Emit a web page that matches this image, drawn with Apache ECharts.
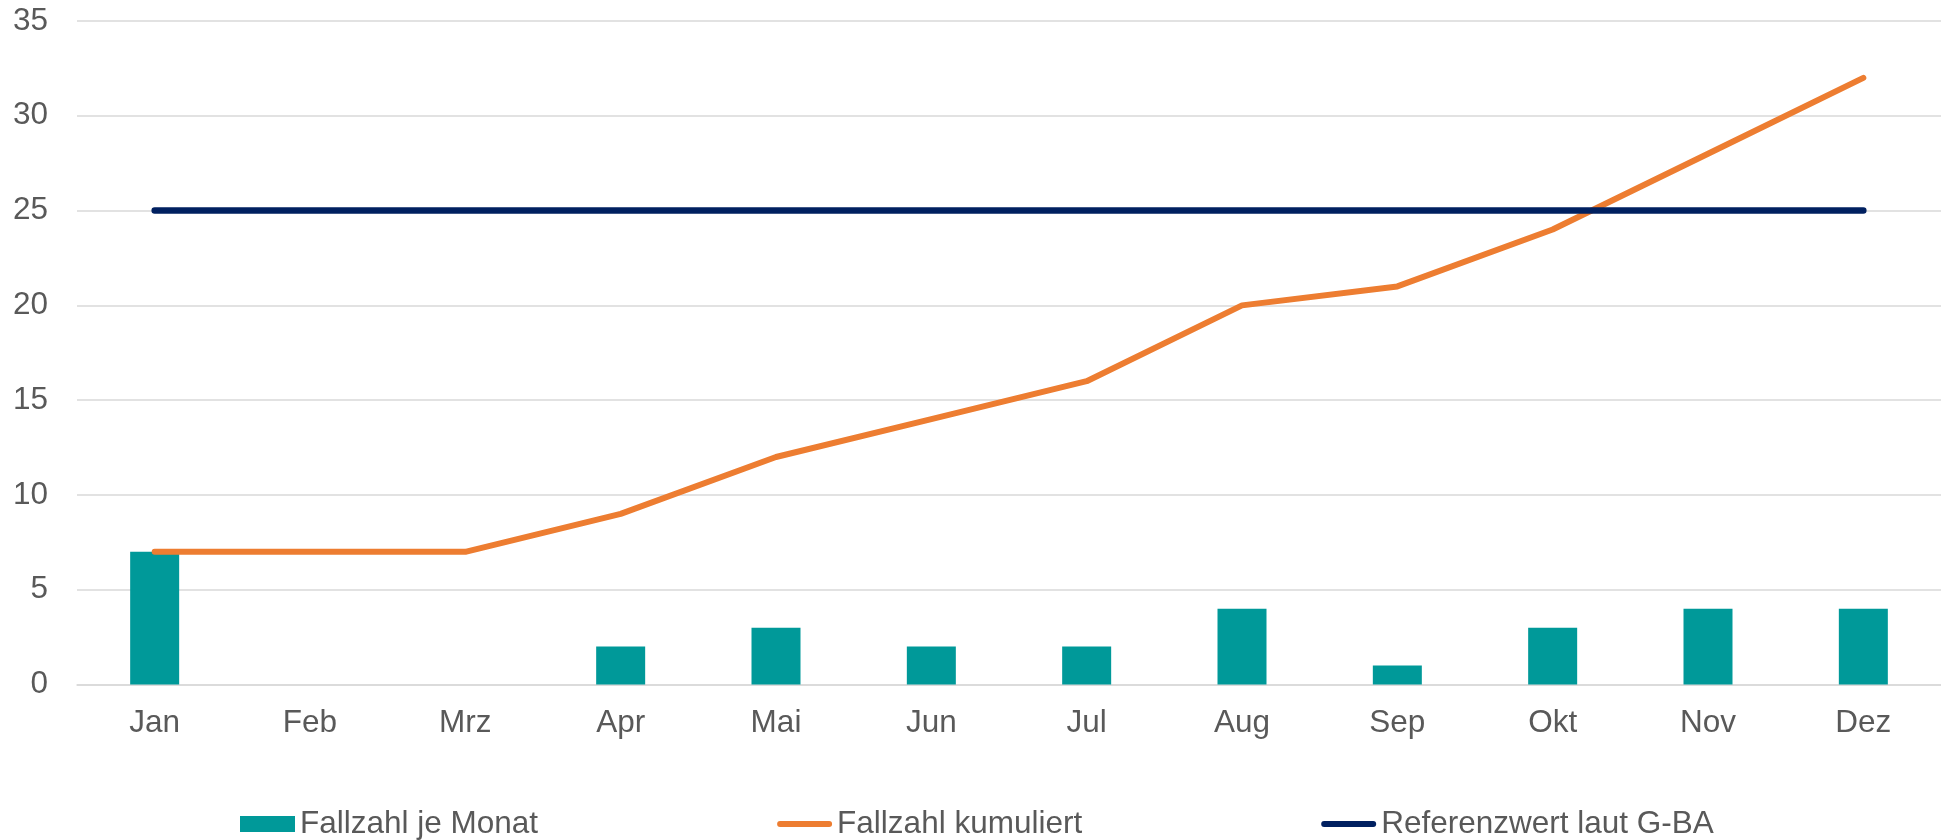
<!DOCTYPE html>
<html>
<head>
<meta charset="utf-8">
<script src="https://cdn.jsdelivr.net/npm/echarts@6/dist/echarts.min.js"></script>
<style>
html,body{margin:0;padding:0;background:#fff;}
#chart{width:1941px;height:840px;}
</style>
</head>
<body>
<div id="chart"></div>
<script>
const categories = ['Jan','Feb','Mrz','Apr','Mai','Jun','Jul','Aug','Sep','Okt','Nov','Dez'];
const monthly = [7,0,0,2,3,2,2,4,1,3,4,4];
const cumulative = [7,7,7,9,12,14,16,20,21,24,28,32];
const reference = [25,25,25,25,25,25,25,25,25,25,25,25];
const seriesNames = ['Fallzahl je Monat','Fallzahl kumuliert','Referenzwert laut G-BA'];

const font = '"Liberation Sans", Arial, sans-serif';
const lineIcon = 'path://M3,0 H53 A3,3 0 0 1 53,6 H3 A3,3 0 0 1 3,0 Z';
const chart = echarts.init(document.getElementById('chart'), null, {renderer:'canvas'});
chart.setOption({
  animation:false,
  textStyle:{fontFamily:font},
  grid:{left:77, top:21, width:1873, height:663.5, containLabel:false},
  legend:{
    top:803, left:235,
    itemWidth:55, itemHeight:16, itemGap:239, symbolKeepAspect:true,
    textStyle:{fontSize:31.5, color:'#595959', fontFamily:font},
    data:[
      {name:seriesNames[0], icon:'rect'},
      {name:seriesNames[1], icon:lineIcon},
      {name:seriesNames[2], icon:lineIcon}
    ]
  },
  xAxis:{
    type:'category', data:categories, boundaryGap:true,
    axisLine:{show:true, lineStyle:{color:'#D9D9D9', width:1.5}},
    axisTick:{show:false},
    axisLabel:{fontSize:31.5, color:'#595959', margin:23, fontFamily:font}
  },
  yAxis:{
    type:'value', min:0, max:35, interval:5,
    axisLine:{show:false}, axisTick:{show:false},
    splitLine:{lineStyle:{color:'#D9D9D9', width:1.5}},
    axisLabel:{fontSize:31.5, color:'#595959', margin:29, fontFamily:font}
  },
  series:[
    {name:seriesNames[0], type:'bar', data:monthly, barWidth:49,
     itemStyle:{color:'#009999'}},
    {name:seriesNames[1], type:'line', data:cumulative, showSymbol:false, symbol:'none',
     lineStyle:{color:'#ED7D31', width:6, cap:'round', join:'round'}, itemStyle:{color:'#ED7D31'}},
    {name:seriesNames[2], type:'line', data:reference, showSymbol:false, symbol:'none',
     lineStyle:{color:'#002060', width:6.5, cap:'round'}, itemStyle:{color:'#002060'}}
  ]
});
</script>
</body>
</html>
